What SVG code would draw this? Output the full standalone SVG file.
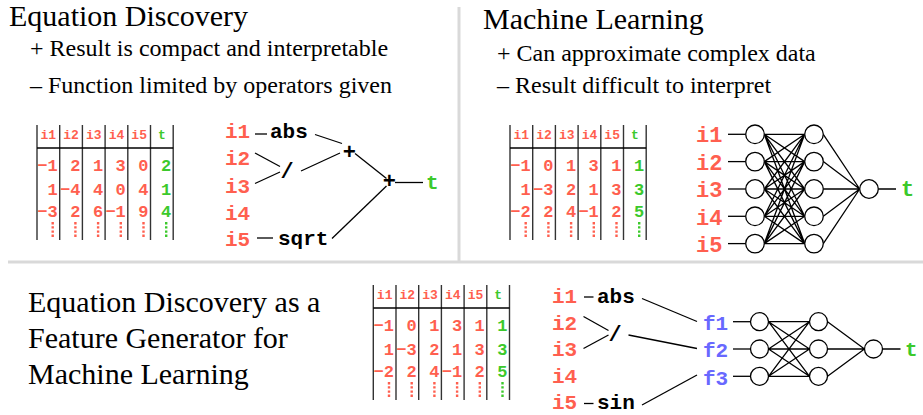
<svg xmlns="http://www.w3.org/2000/svg" xmlns:xlink="http://www.w3.org/1999/xlink" width="923" height="415" viewBox="0 0 923 415">
<style>
.title{font-size:30px;fill:#000}
.bul{font-size:24px;fill:#000}
.hd{font-weight:bold;font-size:13px;text-anchor:middle}
.num{font-weight:bold;font-size:17px;text-anchor:end}
.lab{font-weight:bold;font-size:21px}
.labn{font-weight:bold;font-size:22px}
.op{font-weight:bold;font-size:22px;text-anchor:middle;fill:#000}
.r{fill:#ff5f4f}.g{fill:#3cc92c}.b{fill:#6868ff}.k{fill:#000}
.vl{stroke:#333;stroke-width:1.4}
.hl{stroke:#000;stroke-width:1.4}
.dr{stroke:#ff5f4f;stroke-width:2.4;stroke-dasharray:2.4 1.8}
.dg{stroke:#3cc92c;stroke-width:2.4;stroke-dasharray:2.4 1.8}
.ln{stroke:#000;stroke-width:1.3;fill:none}
.nd{fill:#fff;stroke:#000;stroke-width:1.3}
.sep{stroke:#d9d9d9;stroke-width:3}
</style>
<defs>
<g id="grid" font-family="Liberation Mono, Courier New, monospace">
<line class="vl" x1="0" y1="0" x2="0" y2="115"/>
<line class="vl" x1="22.7" y1="0" x2="22.7" y2="115"/>
<line class="vl" x1="45.4" y1="0" x2="45.4" y2="115"/>
<line class="vl" x1="68.1" y1="0" x2="68.1" y2="115"/>
<line class="vl" x1="90.8" y1="0" x2="90.8" y2="115"/>
<line class="vl" x1="113.5" y1="0" x2="113.5" y2="115"/>
<line class="vl" x1="136.2" y1="0" x2="136.2" y2="115"/>
<line class="hl" x1="0" y1="23" x2="136.2" y2="23"/>
<line class="dr" x1="15.7" y1="97" x2="15.7" y2="113"/>
<line class="dr" x1="38.4" y1="97" x2="38.4" y2="113"/>
<line class="dr" x1="61.1" y1="97" x2="61.1" y2="113"/>
<line class="dr" x1="83.8" y1="97" x2="83.8" y2="113"/>
<line class="dr" x1="106.5" y1="97" x2="106.5" y2="113"/>
<line class="dg" x1="129.2" y1="97" x2="129.2" y2="113"/>
<text class="hd r" x="11.35" y="14">i1</text>
<text class="hd r" x="34.05" y="14">i2</text>
<text class="hd r" x="56.75" y="14">i3</text>
<text class="hd r" x="79.45" y="14">i4</text>
<text class="hd r" x="102.15" y="14">i5</text>
<text class="hd g" x="124.85" y="14">t</text>
</g>
</defs>

<g id="separators">
<line class="sep" x1="459" y1="7" x2="459" y2="262"/>
<line class="sep" x1="8" y1="262" x2="923" y2="262"/>
</g>

<g id="texts" font-family="Liberation Serif, Times New Roman, serif">
<g id="ed-text">
<text class="title" x="9" y="26">Equation Discovery</text>
<text class="bul" x="30" y="56">+ Result is compact and interpretable</text>
<text class="bul" x="30" y="93">– Function limited by operators given</text>
</g>
<g id="ml-text">
<text class="title" x="483" y="29">Machine Learning</text>
<text class="bul" x="497" y="61">+ Can approximate complex data</text>
<text class="bul" x="497" y="93">– Result difficult to interpret</text>
</g>
<g id="edfg-text">
<text class="title" x="28" y="312">Equation Discovery as a</text>
<text class="title" x="28" y="348">Feature Generator for</text>
<text class="title" x="28" y="384">Machine Learning</text>
</g>
</g>

<g id="mono" font-family="Liberation Mono, Courier New, monospace">
<g id="table1" transform="translate(37,125)">
<use xlink:href="#grid"/>
<g class="num r">
<text x="20.7" y="46">−1</text><text x="43.4" y="46">2</text><text x="66.1" y="46">1</text><text x="88.8" y="46">3</text><text x="111.5" y="46">0</text>
<text x="20.7" y="69.5">1</text><text x="43.4" y="69.5">−4</text><text x="66.1" y="69.5">4</text><text x="88.8" y="69.5">0</text><text x="111.5" y="69.5">4</text>
<text x="20.7" y="91.5">−3</text><text x="43.4" y="91.5">2</text><text x="66.1" y="91.5">6</text><text x="88.8" y="91.5">−1</text><text x="111.5" y="91.5">9</text>
</g>
<g class="num g">
<text x="134.2" y="46">2</text><text x="134.2" y="69.5">1</text><text x="134.2" y="91.5">4</text>
</g>
</g>

<g id="table2" transform="translate(510,125)">
<use xlink:href="#grid"/>
<g class="num r">
<text x="20.7" y="46">−1</text><text x="43.4" y="46">0</text><text x="66.1" y="46">1</text><text x="88.8" y="46">3</text><text x="111.5" y="46">1</text>
<text x="20.7" y="69.5">1</text><text x="43.4" y="69.5">−3</text><text x="66.1" y="69.5">2</text><text x="88.8" y="69.5">1</text><text x="111.5" y="69.5">3</text>
<text x="20.7" y="91.5">−2</text><text x="43.4" y="91.5">2</text><text x="66.1" y="91.5">4</text><text x="88.8" y="91.5">−1</text><text x="111.5" y="91.5">2</text>
</g>
<g class="num g">
<text x="134.2" y="46">1</text><text x="134.2" y="69.5">3</text><text x="134.2" y="91.5">5</text>
</g>
</g>

<g id="table3" transform="translate(373.3,285)">
<use xlink:href="#grid"/>
<g class="num r">
<text x="20.7" y="46">−1</text><text x="43.4" y="46">0</text><text x="66.1" y="46">1</text><text x="88.8" y="46">3</text><text x="111.5" y="46">1</text>
<text x="20.7" y="69.5">1</text><text x="43.4" y="69.5">−3</text><text x="66.1" y="69.5">2</text><text x="88.8" y="69.5">1</text><text x="111.5" y="69.5">3</text>
<text x="20.7" y="91.5">−2</text><text x="43.4" y="91.5">2</text><text x="66.1" y="91.5">4</text><text x="88.8" y="91.5">−1</text><text x="111.5" y="91.5">2</text>
</g>
<g class="num g">
<text x="134.2" y="46">1</text><text x="134.2" y="69.5">3</text><text x="134.2" y="91.5">5</text>
</g>
</g>

<g id="eq-connectors">
<line class="ln" x1="255" y1="134" x2="267" y2="134"/>
<line class="ln" x1="255" y1="153" x2="280" y2="166.5"/>
<line class="ln" x1="255" y1="183.5" x2="280" y2="172"/>
<line class="ln" x1="315" y1="134.5" x2="342" y2="143.5"/>
<line class="ln" x1="301" y1="171" x2="340" y2="153"/>
<line class="ln" x1="355" y1="153.5" x2="386.5" y2="178.5"/>
<line class="ln" x1="395" y1="182.5" x2="423" y2="182.5"/>
<line class="ln" x1="257" y1="238" x2="273" y2="238"/>
<line class="ln" x1="332" y1="238.5" x2="386.5" y2="186"/>
</g>
<g id="eq-i1"><text class="lab r" x="225" y="138">i1</text></g>
<g id="eq-i2"><text class="lab r" x="225" y="165">i2</text></g>
<g id="eq-i3"><text class="lab r" x="225" y="192.5">i3</text></g>
<g id="eq-i4"><text class="lab r" x="225" y="220">i4</text></g>
<g id="eq-i5"><text class="lab r" x="225" y="246">i5</text></g>
<g id="eq-abs"><text class="lab k" x="270" y="138">abs</text></g>
<g id="eq-div"><text class="op" x="287" y="177.5">/</text></g>
<g id="eq-sqrt"><text class="lab k" x="278" y="245">sqrt</text></g>
<g id="eq-plus1"><text class="op" x="349.3" y="158.5">+</text></g>
<g id="eq-plus2"><text class="op" x="389.3" y="188">+</text></g>
<g id="eq-t"><text class="lab g" x="426" y="189">t</text></g>

<g id="nn-connectors">
<line class="ln" x1="728" y1="134.3" x2="745.7" y2="134.3"/>
<line class="ln" x1="728" y1="161.6" x2="745.7" y2="161.6"/>
<line class="ln" x1="728" y1="189" x2="745.7" y2="189"/>
<line class="ln" x1="728" y1="216.3" x2="745.7" y2="216.3"/>
<line class="ln" x1="728" y1="243.6" x2="745.7" y2="243.6"/>
<path class="ln" d="M764.3 134.3L804.7 134.3M764.3 134.3L804.7 161.6M764.3 134.3L804.7 189M764.3 134.3L804.7 216.3M764.3 134.3L804.7 243.6
M764.3 161.6L804.7 134.3M764.3 161.6L804.7 161.6M764.3 161.6L804.7 189M764.3 161.6L804.7 216.3M764.3 161.6L804.7 243.6
M764.3 189L804.7 134.3M764.3 189L804.7 161.6M764.3 189L804.7 189M764.3 189L804.7 216.3M764.3 189L804.7 243.6
M764.3 216.3L804.7 134.3M764.3 216.3L804.7 161.6M764.3 216.3L804.7 189M764.3 216.3L804.7 216.3M764.3 216.3L804.7 243.6
M764.3 243.6L804.7 134.3M764.3 243.6L804.7 161.6M764.3 243.6L804.7 189M764.3 243.6L804.7 216.3M764.3 243.6L804.7 243.6
M823.3 134.3L859.7 189M823.3 161.6L859.7 189M823.3 189L859.7 189M823.3 216.3L859.7 189M823.3 243.6L859.7 189
M878.3 189L896 189"/>
</g>
<g id="nn-i1"><text class="labn r" x="696" y="142">i1</text></g>
<g id="nn-i2"><text class="labn r" x="696" y="169.5">i2</text></g>
<g id="nn-i3"><text class="labn r" x="696" y="197">i3</text></g>
<g id="nn-i4"><text class="labn r" x="696" y="224.5">i4</text></g>
<g id="nn-i5"><text class="labn r" x="696" y="251.5">i5</text></g>
<g id="nn-h1">
<circle class="nd" cx="755" cy="134.3" r="9.3"/><circle class="nd" cx="755" cy="161.6" r="9.3"/><circle class="nd" cx="755" cy="189" r="9.3"/><circle class="nd" cx="755" cy="216.3" r="9.3"/><circle class="nd" cx="755" cy="243.6" r="9.3"/>
</g>
<g id="nn-h2">
<circle class="nd" cx="814" cy="134.3" r="9.3"/><circle class="nd" cx="814" cy="161.6" r="9.3"/><circle class="nd" cx="814" cy="189" r="9.3"/><circle class="nd" cx="814" cy="216.3" r="9.3"/><circle class="nd" cx="814" cy="243.6" r="9.3"/>
</g>
<g id="nn-out"><circle class="nd" cx="869" cy="189" r="9.3"/></g>
<g id="nn-t"><text class="labn g" x="901" y="196">t</text></g>

<g id="fg-connectors">
<line class="ln" x1="584" y1="297" x2="593.5" y2="297"/>
<line class="ln" x1="583.5" y1="316.5" x2="608.5" y2="330.5"/>
<line class="ln" x1="583.5" y1="348.5" x2="608.5" y2="335"/>
<line class="ln" x1="584" y1="403.5" x2="593.5" y2="403.5"/>
<line class="ln" x1="642" y1="298.5" x2="697" y2="321.5"/>
<line class="ln" x1="628.5" y1="335" x2="697" y2="348.5"/>
<line class="ln" x1="642" y1="405" x2="697" y2="375"/>
<line class="ln" x1="733" y1="321.7" x2="750.5" y2="321.7"/>
<line class="ln" x1="733" y1="349" x2="750.5" y2="349"/>
<line class="ln" x1="733" y1="376.3" x2="750.5" y2="376.3"/>
<path class="ln" d="M768.5 321.7L809.5 321.7M768.5 321.7L809.5 349M768.5 321.7L809.5 376.3
M768.5 349L809.5 321.7M768.5 349L809.5 349M768.5 349L809.5 376.3
M768.5 376.3L809.5 321.7M768.5 376.3L809.5 349M768.5 376.3L809.5 376.3
M827.5 321.7L864.5 349M827.5 349L864.5 349M827.5 376.3L864.5 349
M882.5 349L900.5 349"/>
</g>
<g id="fg-i1"><text class="lab r" x="552" y="303">i1</text></g>
<g id="fg-i2"><text class="lab r" x="552" y="329.5">i2</text></g>
<g id="fg-i3"><text class="lab r" x="552" y="356">i3</text></g>
<g id="fg-i4"><text class="lab r" x="552" y="382.5">i4</text></g>
<g id="fg-i5"><text class="lab r" x="552" y="409">i5</text></g>
<g id="fg-abs"><text class="lab k" x="597" y="303">abs</text></g>
<g id="fg-div"><text class="op" x="615" y="340.5">/</text></g>
<g id="fg-sin"><text class="lab k" x="597" y="409">sin</text></g>
<g id="fg-f1"><text class="lab b" x="703" y="330">f1</text></g>
<g id="fg-f2"><text class="lab b" x="703" y="357">f2</text></g>
<g id="fg-f3"><text class="lab b" x="703" y="384.5">f3</text></g>
<g id="fg-h1">
<circle class="nd" cx="759.5" cy="321.7" r="9"/><circle class="nd" cx="759.5" cy="349" r="9"/><circle class="nd" cx="759.5" cy="376.3" r="9"/>
</g>
<g id="fg-h2">
<circle class="nd" cx="818.5" cy="321.7" r="9"/><circle class="nd" cx="818.5" cy="349" r="9"/><circle class="nd" cx="818.5" cy="376.3" r="9"/>
</g>
<g id="fg-out"><circle class="nd" cx="873.5" cy="349" r="9"/></g>
<g id="fg-t"><text class="lab g" x="905" y="355.5">t</text></g>
</g>
</svg>
